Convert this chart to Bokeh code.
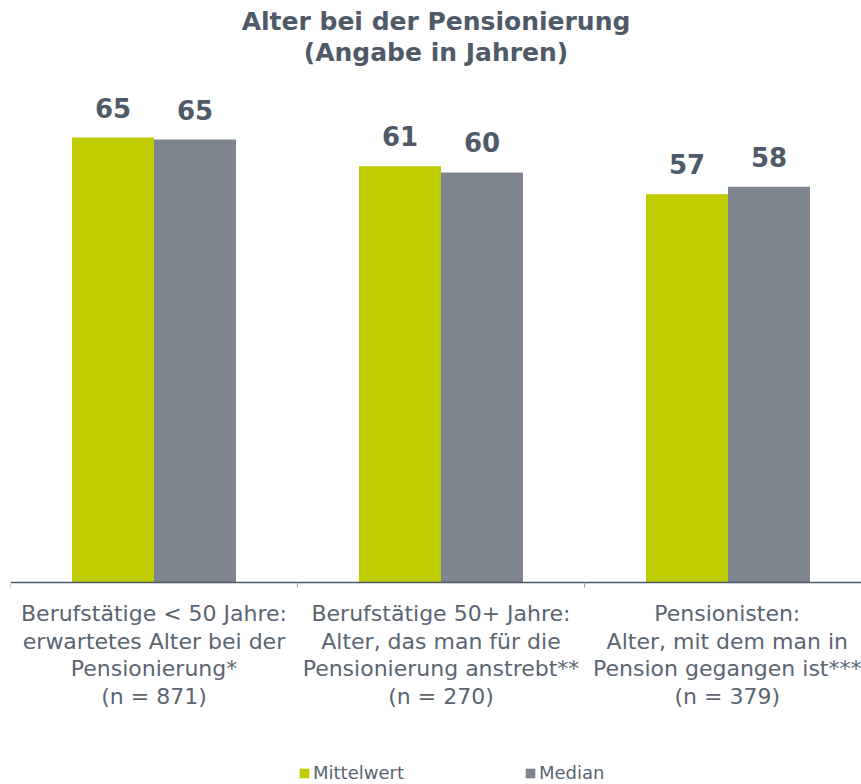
from bokeh.plotting import figure
from bokeh.models import Range1d, LinearAxis, FixedTicker, ColumnDataSource, Legend, LegendItem, Title
from bokeh.core.properties import value
from bokeh.embed import file_html
from bokeh.resources import INLINE

title_lines = ["Alter bei der Pensionierung", "(Angabe in Jahren)"]
categories = [
    "Berufstätige < 50 Jahre:\nerwartetes Alter bei der\nPensionierung*\n(n = 871)",
    "Berufstätige 50+ Jahre:\nAlter, das man für die\nPensionierung anstrebt**\n(n = 270)",
    "Pensionisten:\nAlter, mit dem man in\nPension gegangen ist***\n(n = 379)",
]
mittelwert = [65.0, 60.8, 56.7]
median = [64.7, 59.9, 57.8]
series_names = ["Mittelwert", "Median"]

GREEN = "#BFCC00"
GRAY = "#7E858F"
DARK = "#4E5A68"
LABEL = "#5A6572"
FONT = "DejaVu Sans"

pos = [i + 0.5 for i in range(len(categories))]
bw = 82 / 287
PX = 6.838  # pixels per year

src_m = ColumnDataSource(dict(x=[p - bw / 2 for p in pos], top=mittelwert,
                              lab=[str(int(round(v))) for v in mittelwert]))
src_d = ColumnDataSource(dict(x=[p + bw / 2 for p in pos], top=median,
                              lab=[str(int(round(v))) for v in median]))

p = figure(frame_width=851, frame_height=718, x_range=Range1d(0, 851 / 287),
           y_range=Range1d(-202.5 / PX, 515.5 / PX),
           output_backend="svg", toolbar_location=None,
           min_border_left=10, min_border_right=0, min_border_top=66, min_border_bottom=0,
           x_axis_type=None, y_axis_type=None)
p.outline_line_color = None
p.grid.visible = False
p.title.visible = False

for txt in (title_lines[1], title_lines[0]):
    t = Title(text=txt, align="center", text_font=FONT, text_font_size="25px",
              text_font_style="bold", text_color=DARK, standoff=0)
    p.add_layout(t, "above")

r1 = p.vbar(x="x", top="top", width=bw, bottom=0, source=src_m, fill_color=GREEN, line_color=None)
r2 = p.vbar(x="x", top="top", width=bw, bottom=0, source=src_d, fill_color=GRAY, line_color=None)

for src in (src_m, src_d):
    p.text(x="x", y="top", text="lab", source=src, text_align="center", text_baseline="bottom",
           y_offset=-20, text_font=value(FONT), text_font_size="26px", text_font_style="bold",
           text_color=DARK)

ax1 = LinearAxis(ticker=FixedTicker(ticks=[0, 1, 2, 3]), fixed_location=0)
ax1.axis_line_color = DARK
ax1.axis_line_width = 1.3
ax1.major_tick_line_color = "#9AA0A8"
ax1.major_tick_out = 5
ax1.major_tick_in = 0
ax1.minor_tick_line_color = None
ax1.major_label_text_font_size = "0px"
ax1.major_label_standoff = 0
ax1.major_label_overrides = {0: "", 1: "", 2: "", 3: ""}
p.add_layout(ax1, "below")

ax2 = LinearAxis(ticker=FixedTicker(ticks=pos), fixed_location=0)
ax2.axis_line_color = None
ax2.major_tick_line_color = None
ax2.major_tick_out = 0
ax2.major_tick_in = 0
ax2.minor_tick_line_color = None
ax2.major_label_standoff = 19
ax2.major_label_text_font = FONT
ax2.major_label_text_font_size = "22px"
ax2.major_label_text_color = LABEL
ax2.major_label_text_line_height = 1.1
ax2.major_label_overrides = {p_: c for p_, c in zip(pos, categories)}
p.add_layout(ax2, "below")

legend = Legend(items=[LegendItem(label=series_names[0], renderers=[r1]),
                       LegendItem(label=series_names[1], renderers=[r2])],
                orientation="horizontal", location=(288, 1))
legend.border_line_color = None
legend.background_fill_alpha = 0
legend.label_text_font = FONT
legend.label_text_font_size = "18px"
legend.label_text_color = LABEL
legend.glyph_width = 12
legend.glyph_height = 12
legend.label_standoff = 3
legend.spacing = 120
legend.margin = 0
legend.padding = 0
p.add_layout(legend)

open("out.html", "w").write(file_html(p, INLINE))
